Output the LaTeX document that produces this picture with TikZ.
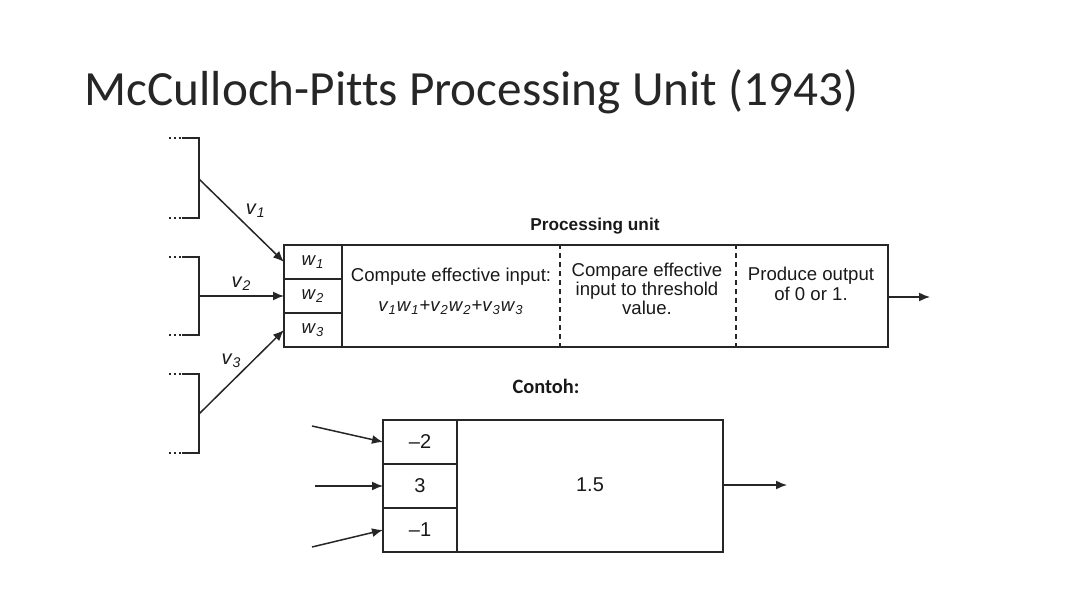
\documentclass[tikz,border=0pt]{standalone}
\usepackage{xcolor}
\usepackage{fontspec}
\setmainfont{Liberation Sans}
\newfontfamily\slidefont[Ligatures=NoCommon]{Carlito}
\usepackage{tikz}
\usetikzlibrary{positioning,arrows.meta}

\newcommand{\sub}[2]{\textit{#1}\textsubscript{\textit{#2}}}

\begin{document}
\begin{tikzpicture}[x=0.5pt,y=-0.5pt,>={Latex[length=5.5pt,width=4.5pt]},
  line width=0.75pt,draw=black!85,text=black!90,
  every node/.style={font=\fontsize{9.3}{8.5}\selectfont,align=center,inner sep=0pt},
  cell/.style={draw,rectangle,outer sep=0pt,minimum width=29pt,minimum height=17pt},
  bigcell/.style={draw,rectangle,outer sep=0pt,minimum width=37pt,minimum height=22pt,font=\fontsize{10}{12}\selectfont},
  vlbl/.style={font=\fontsize{10}{12}\selectfont},
  divider/.style={line width=0.6pt,dash pattern=on 2.5pt off 2pt}]
  \useasboundingbox (0,0) rectangle (1080,608);

  \node[anchor=base west,font=\slidefont\fontsize{24.6}{30}\selectfont,text=black!85] (title) at (84,106) {McCulloch-Pitts Processing Unit (1943)};

  % input brackets
  \foreach \t/\b/\n in {138/218/1,257/335/2,374/453/3}{
    \draw (182,\t) -- (199,\t) -- (199,\b) -- (182,\b);
    \draw[dash pattern=on 1.2pt off 1.2pt] (169,\t) -- (181,\t);
    \draw[dash pattern=on 1.2pt off 1.2pt] (169,\b) -- (181,\b);
  }
  \coordinate (b1) at (199,179);
  \coordinate (b2) at (199,296);
  \coordinate (b3) at (199,414);

  % processing unit
  \node[draw,rectangle,line width=0.85pt,minimum width=302pt,minimum height=51pt] (unit) at (586,296) {};
  \node[cell] (w2) at (313,296) {\sub{w}{2}};
  \node[cell,above=0pt of w2] (w1) {\sub{w}{1}};
  \node[cell,below=0pt of w2] (w3) {\sub{w}{3}};
  \draw[divider] (unit.north -| 560,0) -- (unit.south -| 560,0);
  \draw[divider] (unit.north -| 736,0) -- (unit.south -| 736,0);
  \node[font=\bfseries\fontsize{8.6}{10}\selectfont] (unitlbl) at (595,226) {Processing unit};
  \node (compute) at (451,277) {Compute effective input:};
  \node (formula) at (451,308) {\sub{v}{1}\sub{w}{1}+\sub{v}{2}\sub{w}{2}+\sub{v}{3}\sub{w}{3}};
  \node (compare) at (647,289) {Compare effective\\input to threshold\\value.};
  \node (produce) at (811,284) {Produce output\\of 0 or 1.};
  \coordinate (out) at (930,297);

  \draw[->] (b1) -- node[vlbl,pos=0.55,above=3pt,xshift=5pt] (v1) {\sub{v}{1}} (w1.west);
  \draw[->] (b2) -- node[vlbl,above=2.5pt] (v2) {\sub{v}{2}} (w2.west);
  \draw[->] (b3) -- node[vlbl,pos=0.5,above=2pt,xshift=-5pt] (v3) {\sub{v}{3}} (w3.west);
  \draw[->] (unit.east |- out) -- (out);

  % example
  \node[font=\slidefont\bfseries\fontsize{10.2}{12}\selectfont] (contoh) at (546,386) {Contoh:};
  \node[draw,rectangle,line width=0.85pt,minimum width=170pt,minimum height=66pt] (ex) at (553,486) {};
  \node[bigcell] (e2) at (420,486) {3};
  \node[bigcell,above=0pt of e2] (e1) {--2};
  \node[bigcell,below=0pt of e2] (e3) {--1};
  \node[font=\fontsize{10}{12}\selectfont] (theta) at (590,485) {1.5};
  \coordinate (i1) at (312,426);
  \coordinate (i2) at (315,486);
  \coordinate (i3) at (312,547);
  \coordinate (exout) at (787,485);
  \draw[->] (i1) -- (e1.west);
  \draw[->] (i2) -- (e2.west);
  \draw[->] (i3) -- (e3.west);
  \draw[->] (ex.east |- exout) -- (exout);
\end{tikzpicture}
\end{document}
